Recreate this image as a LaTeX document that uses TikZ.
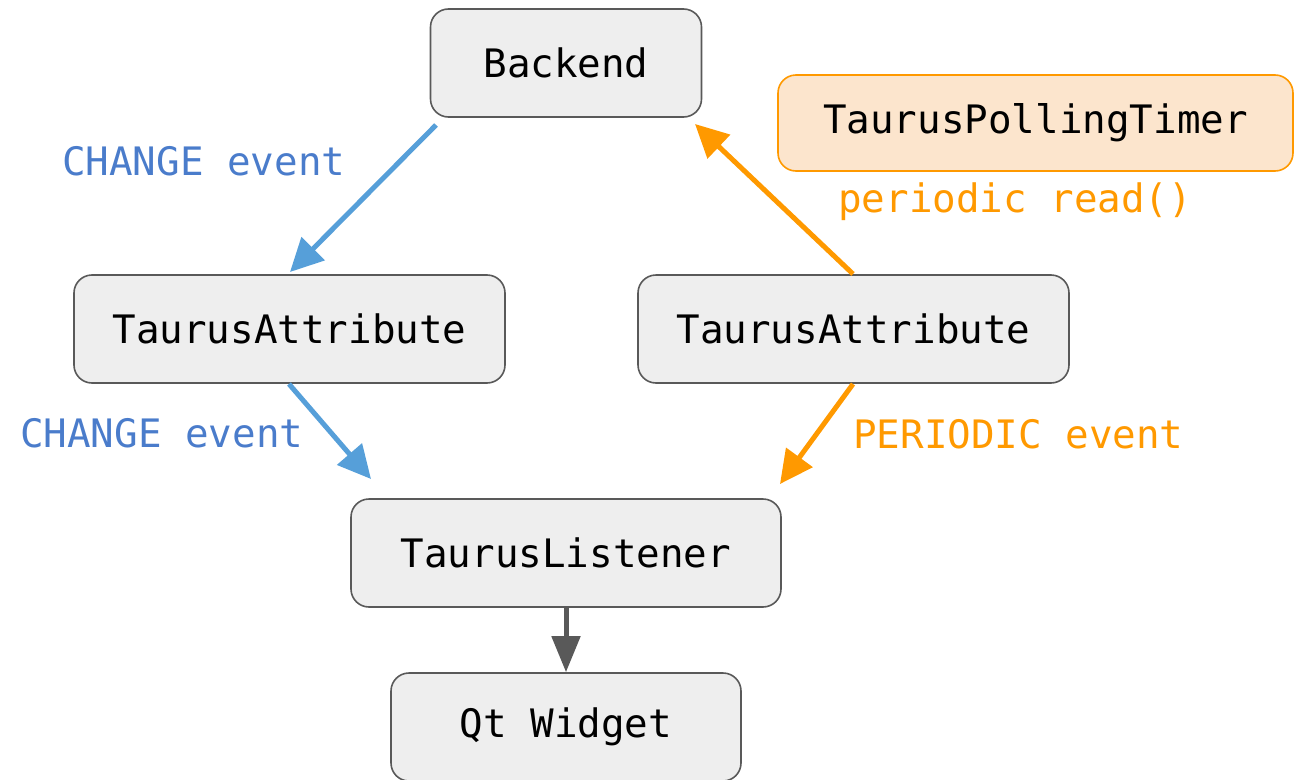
\documentclass[tikz,border=0pt]{standalone}
\usepackage{fontspec}
\setmonofont{DejaVu Sans Mono}
\usetikzlibrary{arrows.meta}
\definecolor{boxfill}{HTML}{EEEEEE}
\definecolor{boxline}{HTML}{595959}
\definecolor{timerfill}{HTML}{FCE5CD}
\definecolor{orangeC}{HTML}{FF9900}
\definecolor{blueArrow}{HTML}{569FD9}
\definecolor{blueText}{HTML}{4A7CCB}
\definecolor{grayArrow}{HTML}{595959}
\tikzset{
  box/.style={draw=boxline, fill=boxfill, line width=1.6pt, rounded corners=18pt,
    inner sep=0pt, font=\ttfamily\fontsize{39.2}{41}\selectfont, text=black},
  timerbox/.style={box, draw=orangeC, fill=timerfill},
  lbl/.style={inner sep=0pt, anchor=base west, font=\ttfamily\fontsize{39.2}{41}\selectfont},
  flow/.style={line width=5pt, -{Triangle[length=33pt,width=32pt]}},
}
\begin{document}
\begin{tikzpicture}[x=1pt,y=-1pt]
  \useasboundingbox (0,0) rectangle (1301,779);
  % boxes
  \node[box, minimum width=271pt, minimum height=108pt] (backend) at (566,63) {Backend};
  \node[timerbox, minimum width=515pt, minimum height=96pt] (timer) at (1035.5,123) {TaurusPollingTimer};
  \node[box, minimum width=431pt, minimum height=108pt] (attrL) at (289.5,329) {TaurusAttribute};
  \node[box, minimum width=431pt, minimum height=108pt] (attrR) at (853.5,329) {TaurusAttribute};
  \node[box, minimum width=430pt, minimum height=108pt] (listener) at (566,553) {TaurusListener};
  \node[box, minimum width=350pt, minimum height=108pt] (widget) at (566,727) {Qt Widget};
  % connector end points
  \coordinate (b1s) at (436,125);
  \coordinate (b1e) at (290,272);
  \coordinate (o1s) at (853,274);
  \coordinate (o1e) at (695,124);
  \coordinate (b2s) at (289,384);
  \coordinate (b2e) at (371,479);
  \coordinate (o2s) at (853,384);
  \coordinate (o2e) at (780,484);
  % connectors
  \draw[flow, draw=blueArrow, fill=blueArrow] (b1s) -- (b1e);
  \draw[flow, draw=orangeC, fill=orangeC] (o1s) -- (o1e);
  \draw[flow, draw=blueArrow, fill=blueArrow] (b2s) -- (b2e);
  \draw[flow, draw=orangeC, fill=orangeC] (o2s) -- (o2e);
  \draw[line width=5pt, draw=grayArrow, -{Triangle[length=36pt,width=28pt]}] (listener.south) -- (widget.north);
  % labels
  \node[lbl, text=blueText] (lc1) at (62,175) {CHANGE event};
  \node[lbl, text=blueText] (lc2) at (20,447) {CHANGE event};
  \node[lbl, text=orangeC] (lpr) at (838,212) {periodic read()};
  \node[lbl, text=orangeC] (lpe) at (853,448) {PERIODIC event};
\end{tikzpicture}
\end{document}
